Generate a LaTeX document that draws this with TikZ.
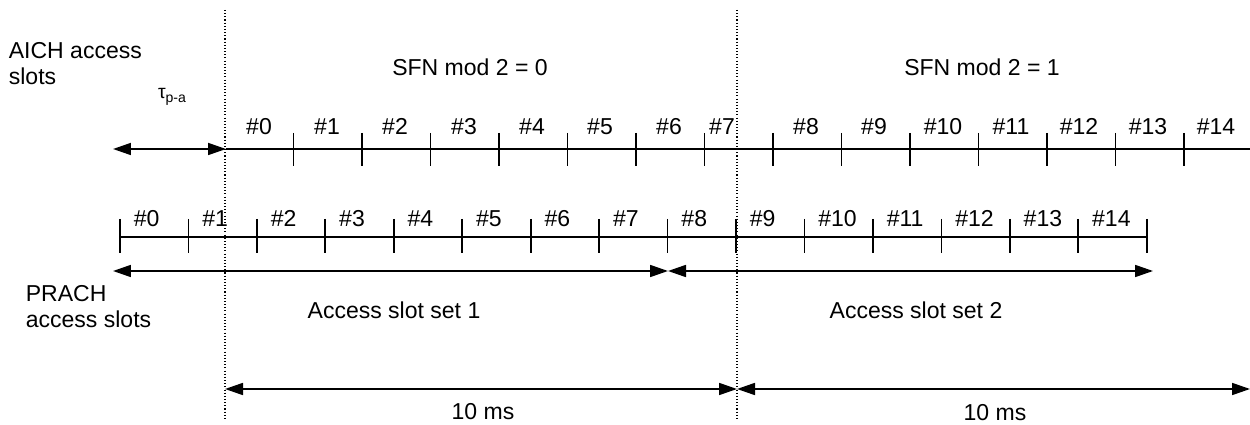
\documentclass[tikz,border=0pt]{standalone}
\usepackage{fontspec}
\setmainfont{Liberation Sans}
\usetikzlibrary{arrows.meta}

\tikzset{
  lbl/.style={inner sep=0pt, font=\fontsize{13.1}{14.8}\selectfont},
  frameline/.style={line width=0.6pt, dash pattern=on 0.6pt off 1.2pt},
  twotips/.style={{Triangle[length=0.36cm,width=0.24cm]}-{Triangle[length=0.36cm,width=0.24cm]}},
}

\begin{document}
\begin{tikzpicture}[x=0.02cm,y=-0.02cm,line width=1pt]
\useasboundingbox (0,0) rectangle (1250,425);

\draw [frameline] (225,10) -- (225,420);
\draw [frameline] (737,10) -- (737,420);

\node [lbl, anchor=west, align=left] (aich) at (8,64) {AICH access\\slots};
\node [lbl, anchor=west, align=left] (prach) at (25,307) {PRACH\\access slots};
\node [lbl, anchor=base] (sfn0) at (470,76) {SFN mod 2 = 0};
\node [lbl, anchor=base] (sfn1) at (982,76) {SFN mod 2 = 1};

\coordinate (tauL) at (113,149);
\coordinate (tauR) at (226,149);
\coordinate (aichR) at (1250,149);
\draw [twotips] (tauL) -- (tauR);
\draw (tauR) -- (aichR);
\node [inner sep=0pt] (tau) at (172,97) {\fontsize{11}{13}\selectfont τ\raisebox{-0.45ex}{\fontsize{8}{9}\selectfont p-a}};

\foreach \k in {1,...,14}
  \draw ({225+68.5*\k},133) -- ({225+68.5*\k},166);
\foreach \i/\x in {0/259,1/327,2/395,3/464,4/532,5/600,6/669,7/722,8/806,9/874,10/943,11/1011,12/1079,13/1148,14/1216}
  \node [lbl, anchor=base] (a\i) at (\x,135) {\#\i};

\coordinate (prachL) at (120,237);
\coordinate (prachR) at (1147,237);
\draw (prachL) -- (prachR);
\foreach \k in {0,...,15}
  \draw ({120+68.45*\k},219) -- ({120+68.45*\k},253);
\foreach \i in {0,...,14}
  \node [lbl, anchor=base west] (p\i) at ({133+68.45*\i},227) {\#\i};

\coordinate (set0) at (113,271);
\coordinate (set1) at (668,271);
\coordinate (set2) at (1153,271);
\draw [twotips] (set0) -- (set1);
\draw [twotips] (set1) -- (set2);
\node [lbl, anchor=base] (setA) at (394,318) {Access slot set 1};
\node [lbl, anchor=base] (setB) at (916,318) {Access slot set 2};

\coordinate (frm0) at (225,389);
\coordinate (frm1) at (737,389);
\coordinate (frm2) at (1250,389);
\draw [twotips] (frm0) -- (frm1);
\draw [twotips] (frm1) -- (frm2);
\node [lbl, anchor=base] (msA) at (483,419) {10 ms};
\node [lbl, anchor=base] (msB) at (995,420) {10 ms};

\end{tikzpicture}
\end{document}
